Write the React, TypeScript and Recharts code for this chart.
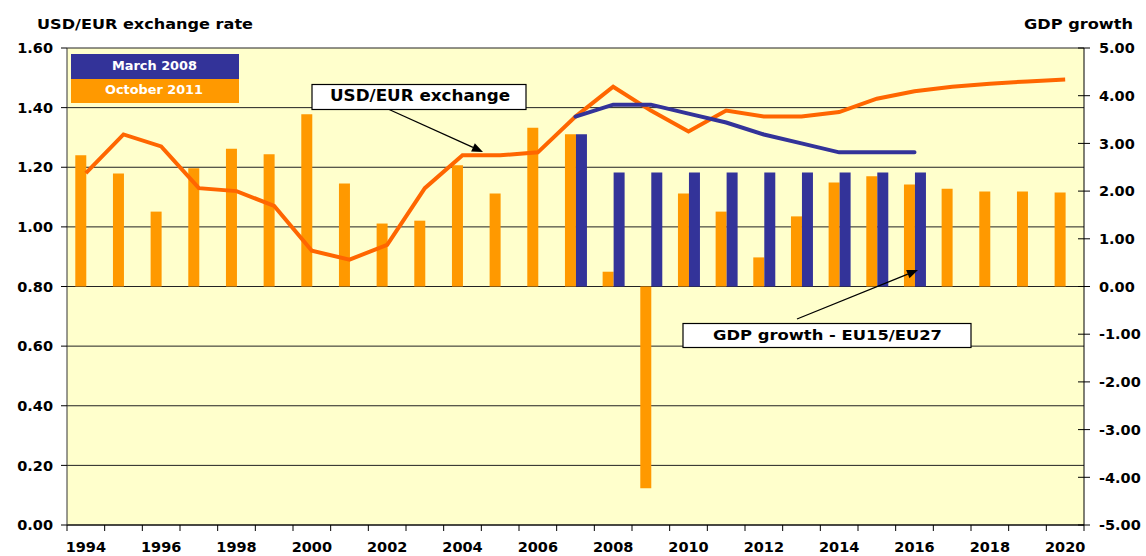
import React from 'react';
import { ComposedChart, Bar, Line, XAxis, YAxis, CartesianGrid } from 'recharts';

// categories
const years = [
  '1994', '1995', '1996', '1997', '1998', '1999', '2000', '2001', '2002', '2003',
  '2004', '2005', '2006', '2007', '2008', '2009', '2010', '2011', '2012', '2013',
  '2014', '2015', '2016', '2017', '2018', '2019', '2020',
];

// GDP growth EU15/EU27 (right axis)
const gdpOct2011 = [
  2.75, 2.37, 1.57, 2.48, 2.89, 2.77, 3.61, 2.16, 1.32, 1.38,
  2.54, 1.95, 3.33, 3.19, 0.31, -4.23, 1.95, 1.57, 0.61, 1.47,
  2.18, 2.31, 2.14, 2.05, 1.99, 1.99, 1.97,
];
const gdpMar2008 = [
  null, null, null, null, null, null, null, null, null, null,
  null, null, null, 3.19, 2.39, 2.39, 2.39, 2.39, 2.39, 2.39,
  2.39, 2.39, 2.39, null, null, null, null,
];

// USD/EUR exchange rate (left axis)
const fxOct2011 = [
  1.18, 1.31, 1.27, 1.13, 1.12, 1.07, 0.92, 0.89, 0.94, 1.13,
  1.24, 1.24, 1.25, 1.37, 1.47, 1.39, 1.32, 1.39, 1.37, 1.37,
  1.385, 1.43, 1.455, 1.47, 1.48, 1.488, 1.494,
];
const fxMar2008 = [
  null, null, null, null, null, null, null, null, null, null,
  null, null, null, 1.37, 1.41, 1.41, 1.38, 1.35, 1.31, 1.28,
  1.25, 1.25, 1.25, null, null, null, null,
];

const leftTicks = [0, 0.2, 0.4, 0.6, 0.8, 1.0, 1.2, 1.4, 1.6];
const rightTicks = [-5, -4, -3, -2, -1, 0, 1, 2, 3, 4, 5];

const data = years.map((year, i) => ({
  year,
  gdpOct: gdpOct2011[i],
  gdpMar: gdpMar2008[i],
  fxOct: fxOct2011[i],
  fxMar: fxMar2008[i],
}));

const W = 1146;
const H = 556;
const PLOT_L = 67;
const PLOT_R = 1084;
const PLOT_T = 48;
const PLOT_B = 525;
const HALF_BAND = (PLOT_R - PLOT_L) / years.length / 2;

const FONT = '"DejaVu Sans", Arial, sans-serif';
const ORANGE = '#FF9900';
const BLUE = '#333399';
const LINE_ORANGE = '#FF6600';

const tickFont = { fontFamily: FONT, fontWeight: 'bold', fontSize: 14.5, fill: '#000' };

const XTick = (props: any) => {
  const { x, payload, index } = props;
  const showLabel = Number(payload.value) % 2 === 0;
  return (
    <g>
      <line x1={x - HALF_BAND} x2={x - HALF_BAND} y1={PLOT_B} y2={PLOT_B + 6} stroke="#000" />
      {index === years.length - 1 && (
        <line x1={x + HALF_BAND} x2={x + HALF_BAND} y1={PLOT_B} y2={PLOT_B + 6} stroke="#000" />
      )}
      {showLabel && (
        <text x={x} y={552} textAnchor="middle" {...tickFont}>
          {payload.value}
        </text>
      )}
    </g>
  );
};

const RightTick = (props: any) => {
  const { y, payload } = props;
  return (
    <g>
      <line x1={PLOT_R - 6} x2={PLOT_R + 6} y1={y} y2={y} stroke="#000" />
      <text x={PLOT_R + 15} y={y} dy="0.36em" textAnchor="start" {...tickFont}>
        {Number(payload.value).toFixed(2)}
      </text>
    </g>
  );
};

function Arrow({ x1, y1, x2, y2 }: { x1: number; y1: number; x2: number; y2: number }) {
  const a = Math.atan2(y2 - y1, x2 - x1);
  const len = 11;
  const w = 4.5;
  const bx = x2 - len * Math.cos(a);
  const by = y2 - len * Math.sin(a);
  const p1 = `${bx + w * Math.sin(a)},${by - w * Math.cos(a)}`;
  const p2 = `${bx - w * Math.sin(a)},${by + w * Math.cos(a)}`;
  return (
    <g>
      <line x1={x1} y1={y1} x2={bx} y2={by} stroke="#000" strokeWidth={1.3} />
      <polygon points={`${x2},${y2} ${p1} ${p2}`} fill="#000" />
    </g>
  );
}

export default function App() {
  return (
    <div style={{ position: 'absolute', left: 0, top: 0, width: W, height: H, background: '#fff' }}>
      <ComposedChart
        width={W}
        height={H}
        data={data}
        margin={{ top: PLOT_T, right: 0, bottom: 0, left: 0 }}
        barCategoryGap="22%"
        barGap={0}
      >
        <CartesianGrid
          yAxisId="left"
          vertical={false}
          stroke="#222"
          fill="#FFFFCC"
          fillOpacity={1}
        />
        <XAxis
          dataKey="year"
          interval={0}
          height={H - PLOT_B}
          tickLine={false}
          axisLine={{ stroke: '#000' }}
          tick={<XTick />}
        />
        <YAxis
          yAxisId="left"
          width={PLOT_L}
          domain={[0, 1.6]}
          ticks={leftTicks}
          tickFormatter={(v: number) => v.toFixed(2)}
          tick={tickFont}
          tickSize={6}
          tickMargin={8}
          axisLine={{ stroke: '#333' }}
          tickLine={{ stroke: '#000' }}
        />
        <YAxis
          yAxisId="right"
          orientation="right"
          width={W - PLOT_R}
          domain={[-5, 5]}
          ticks={rightTicks}
          tick={<RightTick />}
          tickLine={false}
          axisLine={{ stroke: '#000' }}
        />
        <Bar yAxisId="right" dataKey="gdpOct" fill={ORANGE} isAnimationActive={false} />
        <Bar yAxisId="right" dataKey="gdpMar" fill={BLUE} isAnimationActive={false} />
        <Line
          yAxisId="left"
          type="linear"
          dataKey="fxOct"
          stroke={LINE_ORANGE}
          strokeWidth={4}
          dot={false}
          isAnimationActive={false}
        />
        <Line
          yAxisId="left"
          type="linear"
          dataKey="fxMar"
          stroke={BLUE}
          strokeWidth={4}
          strokeLinecap="round"
          dot={false}
          isAnimationActive={false}
        />
      </ComposedChart>

      <svg
        width={W}
        height={H}
        style={{ position: 'absolute', left: 0, top: 0, pointerEvents: 'none' }}
      >
        {/* axis titles */}
        <text x={37} y={29} fontFamily={FONT} fontWeight="bold" fontSize={14} textLength={216} lengthAdjust="spacingAndGlyphs">
          USD/EUR exchange rate
        </text>
        <text x={1024} y={29} fontFamily={FONT} fontWeight="bold" fontSize={14} textLength={109} lengthAdjust="spacingAndGlyphs">
          GDP growth
        </text>

        {/* legend */}
        <rect x={71} y={54} width={168} height={25} fill={BLUE} />
        <rect x={71} y={79} width={168} height={24} fill={ORANGE} />
        <text x={112} y={70} fill="#fff" fontFamily={FONT} fontWeight="bold" fontSize={12.5} textLength={85} lengthAdjust="spacingAndGlyphs">
          March 2008
        </text>
        <text x={105} y={94} fill="#fff" fontFamily={FONT} fontWeight="bold" fontSize={12.5} textLength={98} lengthAdjust="spacingAndGlyphs">
          October 2011
        </text>

        {/* annotations */}
        <Arrow x1={388} y1={109} x2={483} y2={152} />
        <rect x={312} y={84.5} width={214} height={25} fill="#fff" stroke="#000" strokeWidth={1.2} />
        <text x={330} y={100.5} fontFamily={FONT} fontWeight="bold" fontSize={15} textLength={180} lengthAdjust="spacingAndGlyphs">
          USD/EUR exchange
        </text>

        <Arrow x1={797} y1={319} x2={918} y2={270} />
        <rect x={683} y={323.5} width={288} height={24} fill="#fff" stroke="#000" strokeWidth={1.2} />
        <text x={713} y={339.5} fontFamily={FONT} fontWeight="bold" fontSize={14} textLength={229} lengthAdjust="spacingAndGlyphs">
          GDP growth - EU15/EU27
        </text>
      </svg>
    </div>
  );
}
